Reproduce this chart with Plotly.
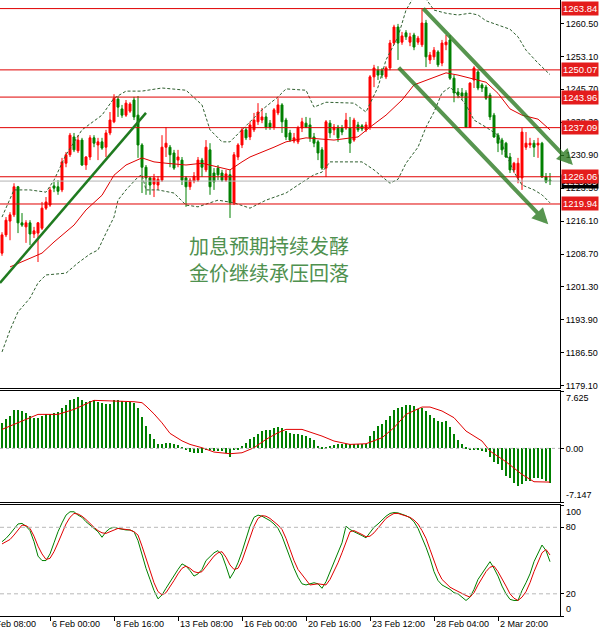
import plotly.graph_objects as go
from plotly.subplots import make_subplots

# Gold H4 candles, bar 0 = leftmost bar on the chart
opens = [
    1208.9, 1213.0, 1216.1, 1217.5, 1223.8, 1215.7, 1214.8, 1215.7, 1213.2, 1213.4,
    1214.5, 1219.0, 1219.7, 1224.0, 1223.8, 1223.1, 1229.1, 1231.0, 1235.0, 1231.9,
    1234.3, 1228.7, 1230.5, 1234.8, 1233.2, 1233.9, 1232.7, 1235.9, 1238.4, 1243.5,
    1241.3, 1239.9, 1240.8, 1243.3, 1239.9, 1233.2, 1228.2, 1225.8, 1224.4, 1224.2,
    1225.3, 1232.7, 1232.7, 1231.4, 1229.8, 1229.8, 1225.8, 1223.8, 1225.1, 1225.3,
    1229.8, 1227.6, 1232.1, 1226.9, 1228.0, 1226.9, 1225.3, 1226.5, 1220.2, 1230.5,
    1233.2, 1236.6, 1235.0, 1236.6, 1238.4, 1238.8, 1239.5, 1238.1, 1237.2, 1240.4,
    1242.2, 1238.8, 1235.9, 1234.1, 1233.9, 1237.0, 1238.1, 1237.7, 1235.0, 1233.9,
    1232.1, 1228.0, 1238.1, 1236.6, 1237.2, 1237.0, 1237.0, 1237.0, 1234.3, 1237.7,
    1237.5, 1236.6, 1237.2, 1248.5, 1250.0, 1250.0, 1248.5, 1250.5, 1256.1, 1259.7,
    1256.3, 1258.4, 1256.3, 1257.9, 1256.3, 1255.7, 1260.6, 1252.3, 1253.0, 1254.1,
    1251.6, 1255.7, 1256.8, 1248.2, 1245.1, 1244.9, 1244.9, 1237.2, 1247.8, 1249.6,
    1246.7, 1246.2, 1244.4, 1239.9, 1235.4, 1234.3, 1233.6, 1230.5, 1227.6, 1225.8,
    1225.8, 1232.7, 1233.2, 1233.6, 1233.2, 1233.6, 1226.0, 1225.3,
]
highs = [
    1213.6, 1217.0, 1218.1, 1224.6, 1224.0, 1217.9, 1216.3, 1216.3, 1214.8, 1215.9,
    1220.4, 1221.5, 1223.8, 1224.9, 1225.3, 1230.3, 1231.6, 1235.9, 1235.9, 1235.4,
    1234.8, 1230.7, 1235.4, 1235.4, 1234.8, 1234.8, 1236.6, 1240.6, 1244.6, 1244.2,
    1242.2, 1243.3, 1242.8, 1244.0, 1244.2, 1233.6, 1228.7, 1226.0, 1226.7, 1226.2,
    1235.4, 1237.2, 1233.2, 1232.1, 1232.1, 1230.5, 1226.2, 1225.8, 1227.1, 1230.5,
    1230.3, 1234.3, 1233.6, 1228.0, 1228.7, 1227.6, 1227.6, 1227.6, 1231.6, 1233.6,
    1237.0, 1237.2, 1238.4, 1240.4, 1242.6, 1241.5, 1240.4, 1238.8, 1241.5, 1243.7,
    1242.6, 1239.3, 1236.6, 1235.9, 1237.5, 1239.3, 1239.5, 1239.3, 1235.9, 1234.3,
    1232.7, 1238.8, 1238.8, 1237.9, 1237.7, 1237.7, 1240.4, 1239.5, 1239.3, 1238.4,
    1237.9, 1238.4, 1248.9, 1251.2, 1250.9, 1250.5, 1250.9, 1256.8, 1260.2, 1260.4,
    1258.6, 1259.0, 1258.4, 1258.4, 1257.7, 1263.8, 1261.3, 1254.1, 1255.2, 1254.5,
    1256.8, 1257.9, 1257.9, 1248.9, 1246.0, 1246.0, 1245.5, 1247.3, 1250.9, 1250.0,
    1247.1, 1246.7, 1244.9, 1240.4, 1235.9, 1234.8, 1233.9, 1231.4, 1229.4, 1230.3,
    1237.0, 1236.1, 1234.8, 1234.3, 1234.8, 1233.9, 1226.9, 1226.9,
]
lows = [
    1208.3, 1212.5, 1211.8, 1217.0, 1213.4, 1214.8, 1211.2, 1210.7, 1212.3, 1206.9,
    1214.1, 1218.6, 1219.3, 1222.6, 1222.0, 1222.6, 1228.2, 1230.5, 1231.6, 1231.4,
    1228.5, 1227.6, 1229.8, 1232.7, 1229.8, 1232.1, 1230.5, 1235.4, 1238.1, 1239.5,
    1239.3, 1239.5, 1240.4, 1238.8, 1230.3, 1222.4, 1222.0, 1222.0, 1221.5, 1223.1,
    1224.9, 1230.5, 1228.2, 1227.6, 1228.2, 1224.2, 1219.3, 1223.1, 1224.6, 1224.9,
    1226.0, 1227.1, 1222.0, 1223.1, 1225.3, 1224.9, 1224.9, 1216.8, 1219.7, 1229.8,
    1232.5, 1234.3, 1234.3, 1236.1, 1237.7, 1238.1, 1236.6, 1236.6, 1236.6, 1239.9,
    1235.9, 1234.3, 1233.9, 1233.6, 1233.4, 1236.1, 1237.0, 1233.9, 1232.7, 1229.8,
    1227.6, 1226.0, 1234.8, 1235.4, 1233.9, 1235.4, 1236.6, 1231.4, 1233.9, 1236.1,
    1236.3, 1236.1, 1236.6, 1246.2, 1247.8, 1248.2, 1248.0, 1250.0, 1255.7, 1252.3,
    1255.7, 1256.8, 1255.4, 1254.5, 1255.7, 1255.2, 1250.7, 1251.4, 1252.3, 1250.7,
    1250.9, 1254.5, 1247.8, 1242.8, 1243.7, 1243.3, 1237.0, 1237.0, 1246.0, 1245.5,
    1245.1, 1243.3, 1238.8, 1234.8, 1231.6, 1231.0, 1230.3, 1226.9, 1226.9, 1224.6,
    1223.1, 1232.1, 1232.5, 1230.5, 1230.3, 1225.8, 1224.6, 1224.2,
]
closes = [
    1213.0, 1216.3, 1217.5, 1223.8, 1215.7, 1215.2, 1215.7, 1213.2, 1213.9, 1215.7,
    1219.0, 1220.4, 1223.1, 1223.5, 1222.8, 1229.4, 1231.0, 1235.4, 1232.1, 1234.3,
    1228.7, 1230.5, 1234.8, 1233.6, 1233.9, 1232.5, 1235.9, 1238.8, 1243.7, 1241.7,
    1239.9, 1242.6, 1242.4, 1239.5, 1233.2, 1228.2, 1225.8, 1224.2, 1225.8, 1225.5,
    1232.7, 1233.6, 1231.0, 1228.0, 1230.5, 1225.3, 1223.8, 1225.3, 1226.2, 1229.8,
    1228.2, 1232.7, 1223.8, 1224.9, 1226.5, 1225.3, 1226.7, 1220.2, 1231.0, 1233.2,
    1236.6, 1234.8, 1237.7, 1238.8, 1240.6, 1239.5, 1237.2, 1237.2, 1241.1, 1242.2,
    1238.4, 1235.0, 1234.3, 1234.8, 1237.0, 1238.4, 1237.2, 1234.8, 1233.6, 1231.4,
    1228.0, 1238.4, 1235.9, 1237.2, 1234.8, 1236.1, 1238.8, 1233.6, 1238.8, 1236.6,
    1236.8, 1237.7, 1248.5, 1250.5, 1248.9, 1248.9, 1250.5, 1256.1, 1259.7, 1256.1,
    1257.7, 1257.5, 1257.5, 1255.2, 1257.2, 1260.6, 1253.0, 1253.4, 1254.5, 1251.2,
    1256.1, 1256.3, 1248.2, 1244.9, 1244.4, 1244.2, 1237.2, 1247.1, 1250.5, 1246.0,
    1246.0, 1243.7, 1239.5, 1235.0, 1233.6, 1232.1, 1230.5, 1227.6, 1229.1, 1229.1,
    1236.1, 1233.6, 1233.6, 1232.7, 1233.6, 1226.0, 1224.9, 1225.09,
]
bars = list(range(len(closes)))

# Bollinger middle line and bands (read at a few bars)
ma_bars = [2, 10, 13, 18, 21, 25, 28, 31, 35, 38, 41, 46, 50, 55, 57, 60, 62, 68, 71, 76,
           83, 89, 92, 96, 100, 103, 108, 111, 114, 117, 121, 124, 127, 130, 134, 137]
ma_vals = [1205.8, 1208.9, 1211.4, 1215.2, 1218.6, 1221.9, 1226.4, 1228.7, 1230.3, 1229.4,
           1229.1, 1228.7, 1229.1, 1228.0, 1227.6, 1229.4, 1230.5, 1232.7, 1233.9, 1234.8,
           1234.3, 1235.0, 1237.2, 1239.9, 1243.3, 1246.7, 1248.5, 1249.4, 1248.9, 1248.2,
           1247.3, 1244.8, 1241.3, 1239.9, 1239.0, 1236.6]
up_bars = [0, 3, 7, 11, 13, 16, 20, 25, 28, 31, 35, 40, 46, 50, 52, 55, 57, 60, 65, 69,
           71, 76, 78, 81, 88, 91, 94, 96, 99, 101, 103, 106, 108, 111, 114, 117, 119, 121,
           124, 127, 129, 131, 134, 136, 137]
up_vals = [1217.0, 1223.1, 1223.1, 1222.6, 1225.3, 1231.0, 1236.6, 1239.9, 1243.7, 1245.3,
           1245.3, 1246.0, 1245.5, 1242.2, 1236.6, 1233.9, 1233.9, 1236.6, 1241.1, 1244.0,
           1245.8, 1245.5, 1241.7, 1242.8, 1242.6, 1240.6, 1246.2, 1252.3, 1257.5, 1263.5,
           1266.5, 1266.0, 1263.5, 1262.8, 1262.4, 1262.8, 1262.4, 1261.1, 1260.2, 1259.2,
           1257.5, 1254.5, 1251.6, 1250.0, 1249.0]
lo_bars = [0, 2, 4, 7, 9, 11, 16, 19, 22, 24, 26, 28, 29, 31, 34, 35, 36, 39, 43, 46,
           49, 54, 58, 62, 66, 71, 74, 78, 80, 82, 90, 93, 97, 99, 101, 104, 106, 108, 110,
           112, 114, 116, 118, 121, 124, 126, 128, 130, 133, 135, 137]
lo_vals = [1186.7, 1191.6, 1195.7, 1198.8, 1202.2, 1204.0, 1204.4, 1206.7, 1208.7, 1209.6,
           1213.4, 1217.0, 1220.8, 1223.1, 1226.0, 1226.5, 1223.1, 1223.1, 1222.4, 1219.7,
           1219.3, 1220.8, 1220.2, 1219.0, 1220.8, 1222.4, 1224.2, 1226.5, 1227.1, 1229.4,
           1229.4, 1227.6, 1224.6, 1225.5, 1229.1, 1232.7, 1237.2, 1240.6, 1244.9, 1246.2,
           1244.4, 1242.2, 1238.8, 1237.2, 1235.4, 1231.4, 1227.1, 1224.2, 1223.1, 1222.0,
           1220.2]

# MACD histogram (one per bar) and signal line
macd_hist = [
    3.33, 3.96, 4.27, 5.07, 5.16, 4.98, 4.76, 4.31, 4.09, 4.0,
    4.27, 4.53, 4.62, 4.67, 4.8, 5.33, 5.73, 6.4, 6.53, 6.76,
    6.4, 6.2, 6.3, 6.4, 6.2, 6.08, 5.86, 5.95, 6.4, 6.4,
    6.3, 6.2, 6.2, 6.08, 5.42, 4.17, 2.97, 1.86, 1.2, 0.62,
    0.62, 0.75, 0.75, 0.62, 0.4, 0.1, -0.18, -0.44, -0.67, -0.7,
    -0.58, -0.22, -0.27, -0.35, -0.35, -0.4, -0.58, -1.15, -0.27, -0.18,
    0.31, 0.75, 1.28, 1.55, 1.86, 2.3, 2.44, 2.44, 2.75, 2.88,
    2.75, 2.3, 2.08, 1.86, 1.86, 1.77, 1.64, 1.33, 1.06, 0.31,
    0.05, 0.18, 0.31, 0.4, 0.53, 0.62, 0.62, 0.53, 0.62, 0.62,
    0.53, 0.62, 1.64, 2.3, 2.97, 3.2, 3.73, 4.3, 5.06, 5.33,
    5.5, 5.73, 5.77, 5.6, 5.2, 5.33, 4.97, 4.44, 4.08, 3.64,
    3.55, 3.64, 2.84, 1.86, 1.06, 0.53, 0.08, -0.13, -0.13, -0.22,
    -0.35, -0.49, -1.15, -1.77, -2.13, -2.93, -3.68, -4.0, -4.57, -5.0,
    -4.7, -4.35, -4.35, -4.0, -3.9, -4.13, -4.35, -4.57,
]
sig_bars = [0, 5, 9, 14, 18, 23, 28, 33, 35, 36, 38, 40, 42, 45, 47, 50, 53, 57, 60, 63,
            66, 69, 71, 75, 80, 83, 87, 91, 95, 98, 101, 105, 107, 110, 113, 116, 120, 122,
            126, 130, 133, 137]
sig_vals = [2.53, 3.64, 4.53, 4.53, 5.2, 6.4, 6.35, 6.22, 6.09, 5.64, 4.6, 3.4, 2.0, 1.0,
            0.53, 0.09, -0.49, -0.71, -0.58, 0.09, 1.2, 2.09, 2.53, 2.53, 1.64, 0.98, 0.53,
            0.62, 1.42, 2.76, 4.53, 5.51, 5.51, 4.98, 4.09, 2.31, 0.98, -0.36, -1.78, -3.47,
            -4.44, -4.49]

# Stochastic %K (green) and %D (red)
stoch_k = [
    67, 70, 74, 79, 83, 83.5, 81, 77, 67, 54,
    50, 50, 56, 66, 76, 84, 91, 94, 94, 91,
    89, 85, 82, 79, 76, 71, 76, 79, 80, 79,
    78, 77.6, 77.6, 76, 68, 55, 43, 33, 23, 15.5,
    19, 25, 31, 37, 42, 47, 45, 41, 36, 38,
    42, 50, 54, 57, 59, 55, 45, 34, 40, 48,
    58, 70, 81, 89, 91, 90, 88, 86, 83, 79,
    72, 62, 52, 43, 35, 29, 28, 29, 30, 29,
    25, 31, 40, 49, 57, 66, 81, 78, 76, 74.5,
    72.5, 70.5, 75, 80, 83, 87, 90, 92.5, 93.3, 93,
    92, 90.5, 88.5, 85, 79, 71, 62, 52, 40, 32,
    28, 26, 24, 21, 20, 17, 14, 17, 24, 33,
    38, 44, 49, 43, 36, 27, 20, 15, 14, 14,
    23, 30, 38, 49, 57, 64, 59, 49,
]
stoch_d = [
    65, 67, 69, 73, 78, 82, 81.5, 79, 72, 63,
    56, 51, 52, 58, 66, 75, 83, 89, 92.5, 92,
    90, 87, 83, 80, 77, 75, 74.5, 76, 78, 79,
    78.5, 78, 77.6, 76, 73, 63, 52, 40, 30, 22,
    19, 21, 26, 32, 38, 43, 45, 43, 40, 39,
    40, 45, 49, 54, 57, 58, 53, 46, 42, 43,
    50, 60, 72, 81, 88, 90.5, 90, 88, 85, 82,
    78, 70, 60, 50, 42, 37, 32, 28, 28.5, 29,
    28.5, 28, 33, 40, 48, 57, 67, 76, 77, 75.5,
    73.5, 71.5, 72, 75, 79, 83.5, 88, 90.5, 92.5, 92.5,
    91.5, 90.5, 89, 86.5, 83, 77, 70, 60, 50, 40,
    33, 29, 26, 24, 22, 20, 18.5, 17, 21, 28,
    34, 40, 44, 45, 40, 34, 27, 20, 16, 14,
    17, 22, 30, 40, 49, 57, 60, 55,
]

# horizontal levels, last price, axis ticks
levels = [1263.84, 1250.07, 1243.96, 1237.09, 1226.06, 1219.94]
last_price = 1225.09
price_ticks = [1179.10, 1186.50, 1193.90, 1201.30, 1208.70, 1216.10,
               1223.50, 1230.90, 1238.30, 1245.70, 1253.10, 1260.50]
time_ticks = [-4, 12, 28, 44, 60, 76, 92, 108, 124]
time_labels = ["1 Feb 08:00", "6 Feb 00:00", "8 Feb 16:00", "13 Feb 08:00", "16 Feb 00:00",
               "20 Feb 16:00", "23 Feb 12:00", "28 Feb 04:00", "2 Mar 20:00"]
note_lines = ["加息预期持续发酵", "金价继续承压回落"]

RED = "#e00000"
GREEN = "#008000"
BAND = "#2f5f2f"
FONT = "Liberation Sans"
X_RANGE = [-0.5, 139.5]

fig = make_subplots(rows=3, cols=1, shared_xaxes=True)

fig.add_trace(go.Candlestick(
    x=bars, open=opens, high=highs, low=lows, close=closes,
    increasing=dict(line=dict(color="#ff0000", width=1), fillcolor="#ff0000"),
    decreasing=dict(line=dict(color=GREEN, width=1), fillcolor=GREEN),
    whiskerwidth=0, showlegend=False), row=1, col=1)
fig.add_trace(go.Scatter(x=ma_bars, y=ma_vals, mode="lines",
                         line=dict(color=RED, width=1), showlegend=False), row=1, col=1)
for bx, by in [(up_bars, up_vals), (lo_bars, lo_vals)]:
    fig.add_trace(go.Scatter(x=bx, y=by, mode="lines",
                             line=dict(color=BAND, width=1, dash="3px,2px"),
                             showlegend=False), row=1, col=1)

fig.add_trace(go.Bar(x=bars, y=macd_hist, marker_color=GREEN, marker_line_width=0,
                     width=0.2, showlegend=False), row=2, col=1)
fig.add_trace(go.Scatter(x=sig_bars, y=sig_vals, mode="lines",
                         line=dict(color=RED, width=1), showlegend=False), row=2, col=1)

fig.add_trace(go.Scatter(x=bars, y=stoch_k, mode="lines",
                         line=dict(color=GREEN, width=1), showlegend=False), row=3, col=1)
fig.add_trace(go.Scatter(x=bars, y=stoch_d, mode="lines",
                         line=dict(color=RED, width=1), showlegend=False), row=3, col=1)

# level lines
fig.add_hline(y=last_price, line=dict(color="#b4b4b4", width=1), row=1, col=1)
for lvl in levels:
    fig.add_hline(y=lvl, line=dict(color=RED, width=1), row=1, col=1)
fig.add_hline(y=0, line=dict(color="#b0b0b0", width=1, dash="dot"), row=2, col=1)
for lvl in [20, 80]:
    fig.add_hline(y=lvl, line=dict(color="#b8b8b8", width=1, dash="4px,3px"), row=3, col=1)

# trend line and channel arrows
fig.add_shape(type="line", xref="x", yref="y", x0=-0.5, y0=1202.2, x1=36, y1=1240.4,
              line=dict(color="#1f7a1f", width=2.5))
for tip_x, tip_y in [(1.023, 0.732), (0.979, 0.636)]:
    fig.add_annotation(xref="paper", yref="paper", x=tip_x, y=tip_y, ax=-151, ay=-158,
                       text="", showarrow=True, arrowhead=2, arrowsize=0.8, arrowwidth=4,
                       arrowcolor="rgba(40,120,30,0.78)", standoff=0)

for k, line in enumerate(note_lines):
    fig.add_annotation(xref="paper", yref="paper", x=0.48, y=0.602 - 0.044 * k,
                       text=line, showarrow=False,
                       font=dict(family="Noto Sans CJK SC", size=20, color="#4f914f"))

lab_font = dict(family=FONT, size=9.5, color="white")
fig.add_annotation(xref="paper", x=1, xanchor="left", xshift=1, yref="y", y=last_price,
                   text=f"{last_price:.2f}", showarrow=False, bgcolor="black",
                   font=lab_font, borderpad=1)
for lvl in levels:
    fig.add_annotation(xref="paper", x=1, xanchor="left", xshift=1, yref="y", y=lvl,
                       text=f"{lvl:.2f}", showarrow=False, bgcolor="#e41c1c",
                       font=lab_font, borderpad=1)

tick_font = dict(family=FONT, size=9, color="black")
# edge labels of the lower panels sit inside the frame
for yref, val, anchor, txt in [("y2", 7.625, "top", "7.625"), ("y2", -7.147, "bottom", "-7.147"),
                               ("y3", 100, "top", "100"), ("y3", 0, "bottom", "0")]:
    fig.add_annotation(xref="paper", x=1, xanchor="left", xshift=4, yref=yref, y=val,
                       yanchor=anchor, text=txt, showarrow=False, font=tick_font)

for t, lab in zip(time_ticks, time_labels):
    fig.add_annotation(xref="paper", yref="paper", x=(t - X_RANGE[0]) / (X_RANGE[1] - X_RANGE[0]),
                       y=0, xanchor="left", yanchor="top", yshift=-1, text=lab,
                       showarrow=False, font=tick_font)

axis_line = dict(showline=True, linecolor="black", linewidth=1, mirror=True,
                 showgrid=False, zeroline=False)
fig.update_xaxes(range=X_RANGE, rangeslider_visible=False, showticklabels=False,
                 ticks="", **axis_line)
fig.update_xaxes(ticks="outside", ticklen=4, tickcolor="black",
                 tickvals=time_ticks[1:], row=3, col=1)
fig.update_yaxes(side="right", ticks="outside", ticklen=3, tickcolor="black",
                 tickfont=tick_font, **axis_line)

fig.update_layout(
    width=600, height=633,
    margin=dict(l=0, r=40, t=0, b=17),
    paper_bgcolor="white", plot_bgcolor="white",
    showlegend=False, bargap=0, hovermode=False,
    yaxis=dict(domain=[0.370, 1.0], range=[1178.58, 1265.77], tickvals=price_ticks,
               ticktext=[f"{v:.2f}" for v in price_ticks]),
    yaxis2=dict(domain=[0.185, 0.365], range=[-7.147, 7.625],
                tickvals=[-7.147, 0, 7.625], ticktext=["", "0.00", ""]),
    yaxis3=dict(domain=[0.0, 0.180], range=[0, 100],
                tickvals=[0, 20, 80, 100], ticktext=["", "20", "80", ""]),
)

# the page's default body margin would push the 600x633 figure off the window
fig.write_html("out.html", config={"displayModeBar": False},
               post_script="document.body.style.margin='0';")
